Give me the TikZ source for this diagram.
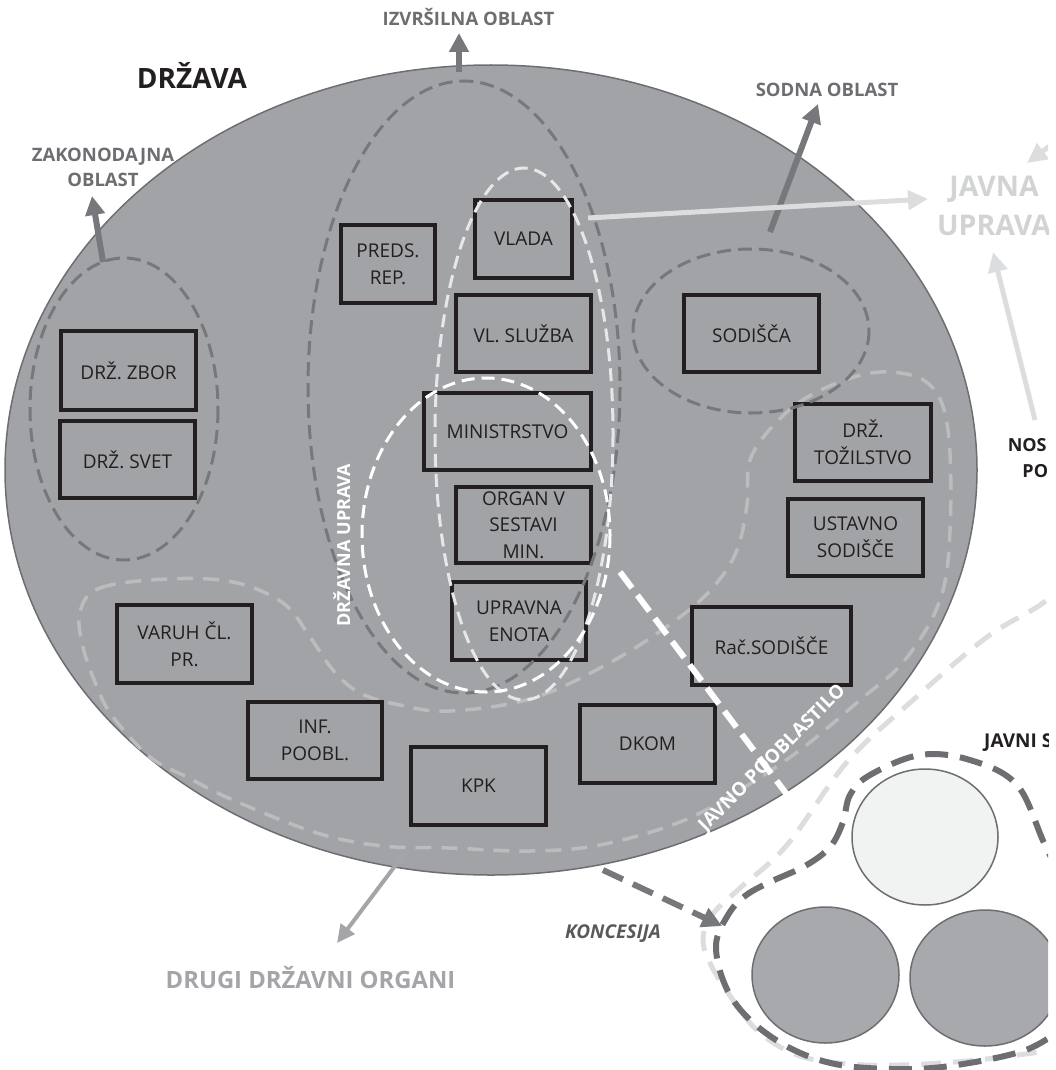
\documentclass[tikz,border=0pt]{standalone}
\usepackage{fontspec}
\setmainfont{Open Sans}
\usetikzlibrary{arrows.meta,calc}

\definecolor{ink}{HTML}{231F20}
\definecolor{statefill}{HTML}{A1A3A6}
\definecolor{staterim}{HTML}{6D6E71}
\definecolor{branchgray}{HTML}{77787B}
\definecolor{labelgray}{HTML}{6D6E71}
\definecolor{palegray}{HTML}{DCDDDE}
\definecolor{othergray}{HTML}{A3A5A8}
\definecolor{bandgray}{HTML}{BABCBE}
\definecolor{vladarim}{HTML}{E6E7E8}
\definecolor{concgray}{HTML}{58595B}
\definecolor{publictext}{HTML}{D1D3D4}
\definecolor{discpale}{HTML}{F1F2F2}
\definecolor{discgray}{HTML}{A7A9AC}
\definecolor{sectorgray}{HTML}{6D6E71}

\tikzset{
  organ/.style={draw=ink, line width=4pt, minimum width=135pt, minimum height=78pt,
    inner sep=1pt, align=center, text=ink, font=\fontsize{19}{26.7}\selectfont},
  branchtag/.style={text=labelgray, align=center, font=\bfseries\fontsize{18.5}{25}\selectfont},
  brancharrow/.style={draw=branchgray, line width=6pt, -{Triangle[length=19pt,width=19pt]}},
  grayring/.style={draw=branchgray, line width=3pt, dash pattern=on 14pt off 7pt},
  whitering/.style={draw=white, line width=3pt, dash pattern=on 13pt off 7pt},
  paleband/.style={draw=bandgray, line width=3.5pt, dash pattern=on 16pt off 10pt},
  palearrow/.style={draw=palegray, line width=5pt, -{Triangle[length=20pt,width=19pt]}},
  publicline/.style={draw=palegray, line width=5pt, dash pattern=on 20pt off 12pt},
  sectorline/.style={draw=sectorgray, line width=6pt, dash pattern=on 23pt off 12pt},
  disc/.style={draw=staterim, line width=1.5pt},
}

\begin{document}
\begin{tikzpicture}[x=1pt,y=-1pt]
\useasboundingbox (0,0) rectangle (1056,1070);
\begin{scope}
\clip (0,0) rectangle (1048,1070);

% the state as a whole
\filldraw[fill=statefill, draw=staterim, line width=1.5pt]
  (491,470) ellipse [x radius=486, y radius=405];

% band of the other state bodies
\draw[paleband] plot[smooth cycle, tension=0.6] coordinates {
  (80,612) (100,588) (167,579) (233,582) (283,603) (310,637) (333,670) (360,693)
  (400,705) (450,711) (533,698) (613,661) (680,617) (715,585) (737,550) (747,505)
  (752,455) (793,407) (845,380) (890,372) (930,385) (948,430) (950,530) (940,600)
  (905,660) (860,700) (800,750) (740,790) (680,822) (600,845) (530,851) (450,848)
  (383,846) (317,833) (233,800) (187,777) (150,757) (113,717) (97,687) (83,647)};

% public sector region outside the state
\draw[publicline] plot[smooth, tension=0.6] coordinates {
  (1090,555) (1047,600) (987,637) (913,700) (847,762) (787,845) (740,888) (712,915)
  (703,940) (712,967) (733,1000) (760,1033) (800,1056) (850,1064) (900,1065)
  (967,1061) (1033,1053) (1090,1045)};

% state bodies
\node[organ, minimum height=79pt] (zbor) at (128.5,370.5) {DRŽ. ZBOR};
\node[organ, minimum height=77pt] (svet) at (127.5,459.5) {DRŽ. SVET};
\node[organ, minimum width=94pt] (preds) at (388,264) {PREDS.\\REP.};
\node[organ, minimum width=97pt] (vlada) at (523.5,239) {VLADA};
\node[organ, minimum height=77pt] (sluzba) at (523.5,333.5) {VL. SLUŽBA};
\node[organ, minimum width=167pt, minimum height=77pt] (minis) at (507.5,431.5) {MINISTRSTVO};
\node[organ, minimum height=76pt] (organ) at (523.5,525) {ORGAN V\\SESTAVI\\MIN.};
\node[organ, minimum width=134pt] (enota) at (519,621) {UPRAVNA\\ENOTA};
\node[organ, minimum height=77pt] (sodisca) at (751.5,333.5) {SODIŠČA};
\node[organ, minimum width=136pt, minimum height=77pt] (tozil) at (863,442.5) {DRŽ.\\TOŽILSTVO};
\node[organ, minimum height=77pt] (ustavno) at (855.5,537.5) {USTAVNO\\SODIŠČE};
\node[organ, minimum width=159pt] (rac) at (771.5,646) {Rač.SODIŠČE};
\node[organ] (varuh) at (184.5,644) {VARUH ČL.\\PR.};
\node[organ, minimum width=134pt, minimum height=77pt] (inf) at (315,740.5) {INF.\\POOBL.};
\node[organ] (kpk) at (478.5,786) {KPK};
\node[organ] (dkom) at (647.5,744) {DKOM};

% branches of power and the state administration
\draw[grayring] (124,409) ellipse [x radius=94, y radius=151];
\draw[grayring] (464,387) ellipse [x radius=156, y radius=306];
\draw[grayring] (751,331) ellipse [x radius=118, y radius=82];
\draw[whitering, draw=vladarim] (524,434) ellipse [x radius=89, y radius=266];
\draw[whitering] (486,535) ellipse [x radius=124, y radius=157];

% public sector entities
\filldraw[disc, fill=discpale] (925,837) ellipse [x radius=73, y radius=68];
\filldraw[disc, fill=discgray] (825.5,975) ellipse [x radius=73.5, y radius=68];
\filldraw[disc, fill=discgray] (985,978) ellipse [x radius=75, y radius=68];
\draw[sectorline] plot[smooth, tension=0.6] coordinates {
  (1075,905) (1045,845) (1017,785) (970,760) (920,755) (870,775) (850,795) (843,822)
  (830,847) (805,866) (770,882) (745,896) (728,915) (716,945) (725,985) (748,1018)
  (788,1047) (835,1064) (893,1069) (950,1066) (1023,1051) (1060,1030)};

% labels
\node[anchor=base, text=ink, font=\bfseries\fontsize{28}{34}\selectfont] (drzava) at (192,88.5) {DRŽAVA};
\node[branchtag, anchor=base] (izvrs) at (468.5,26) {IZVRŠILNA OBLAST};
\node[branchtag] (zakon) at (103,167) {ZAKONODAJNA\\OBLAST};
\node[branchtag, anchor=base] (sodna) at (827,97) {SODNA OBLAST};
\node[text=publictext, align=center, font=\bfseries\fontsize{28.5}{38.5}\selectfont] (javna) at (994,206) {JAVNA\\UPRAVA};
\begin{scope}
  \clip (0,0) rectangle (1046,1070);
  \node[text=ink, align=center, font=\bfseries\fontsize{18}{26}\selectfont] (nosilci) at (1078,458.5) {NOSILCI JAVNIH\\POOBLASTIL};
\end{scope}
\node[text=ink, anchor=base west, inner sep=0pt, font=\bfseries\fontsize{19}{23}\selectfont] (javnisek) at (984,747) {JAVNI SEKTOR};
\node[text=othergray, anchor=base, font=\bfseries\fontsize{23.8}{28}\selectfont] (drugi) at (310.5,988) {DRUGI DRŽAVNI ORGANI};
\node[text=concgray, anchor=base, font=\bfseries\itshape\fontsize{19}{23}\selectfont] (koncesija) at (613,938) {KONCESIJA};
\node[text=white, rotate=90, anchor=base, font=\bfseries\fontsize{18}{22}\selectfont] (drzup) at (350,545) {DRŽAVNA UPRAVA};

% arrows from the branches
\coordinate (zak-foot) at (103,262);
\coordinate (zak-tip) at (92,196);
\coordinate (izv-foot) at (459,72);
\coordinate (izv-tip) at (459,33);
\coordinate (sod-foot) at (770,232);
\coordinate (sod-tip) at (818,104);
\draw[brancharrow] (zak-foot) -- (zak-tip);
\draw[brancharrow] (izv-foot) -- (izv-tip);
\draw[brancharrow] (sod-foot) -- (sod-tip);

% arrows towards the public administration
\coordinate (vlada-out) at (588,218);
\coordinate (javna-in) at (928,199);
\draw[palearrow] (vlada-out) -- (javna-in);
\coordinate (nos-out) at (1035,420);
\coordinate (javna-low) at (993,252);
\draw[palearrow] (nos-out) -- (javna-low);
\coordinate (lok-out) at (1082,122);
\coordinate (javna-high) at (1027,163);
\draw[palearrow] (lok-out) -- (javna-high);

% other state bodies
\coordinate (drugi-out) at (407,850);
\coordinate (drugi-in) at (337,943);
\draw[draw=othergray, line width=4pt, -{Triangle[length=18pt,width=17pt]}] (drugi-out) -- (drugi-in);

% concession
\coordinate (konc-out) at (603,870);
\coordinate (konc-in) at (722,926);
\draw[draw=branchgray, line width=6pt, dash pattern=on 22pt off 11pt,
  -{Triangle[length=20pt,width=20pt]}] (konc-out) -- (konc-in);

% public authorisation
\coordinate (poob-out) at (620,572);
\coordinate (poob-in) at (797,808);
\draw[draw=white, line width=6pt, dash pattern=on 20pt off 9pt] (poob-out) -- (poob-in);
\fill[white, opacity=0.35] (800.6,799.8) -- (803,818) -- (786.2,810.6) -- cycle;
\node[text=white, rotate=45, anchor=base, font=\bfseries\fontsize{19}{23}\selectfont] (poob) at (776,762) {JAVNO POOBLASTILO};
\end{scope}
\end{tikzpicture}
\end{document}
